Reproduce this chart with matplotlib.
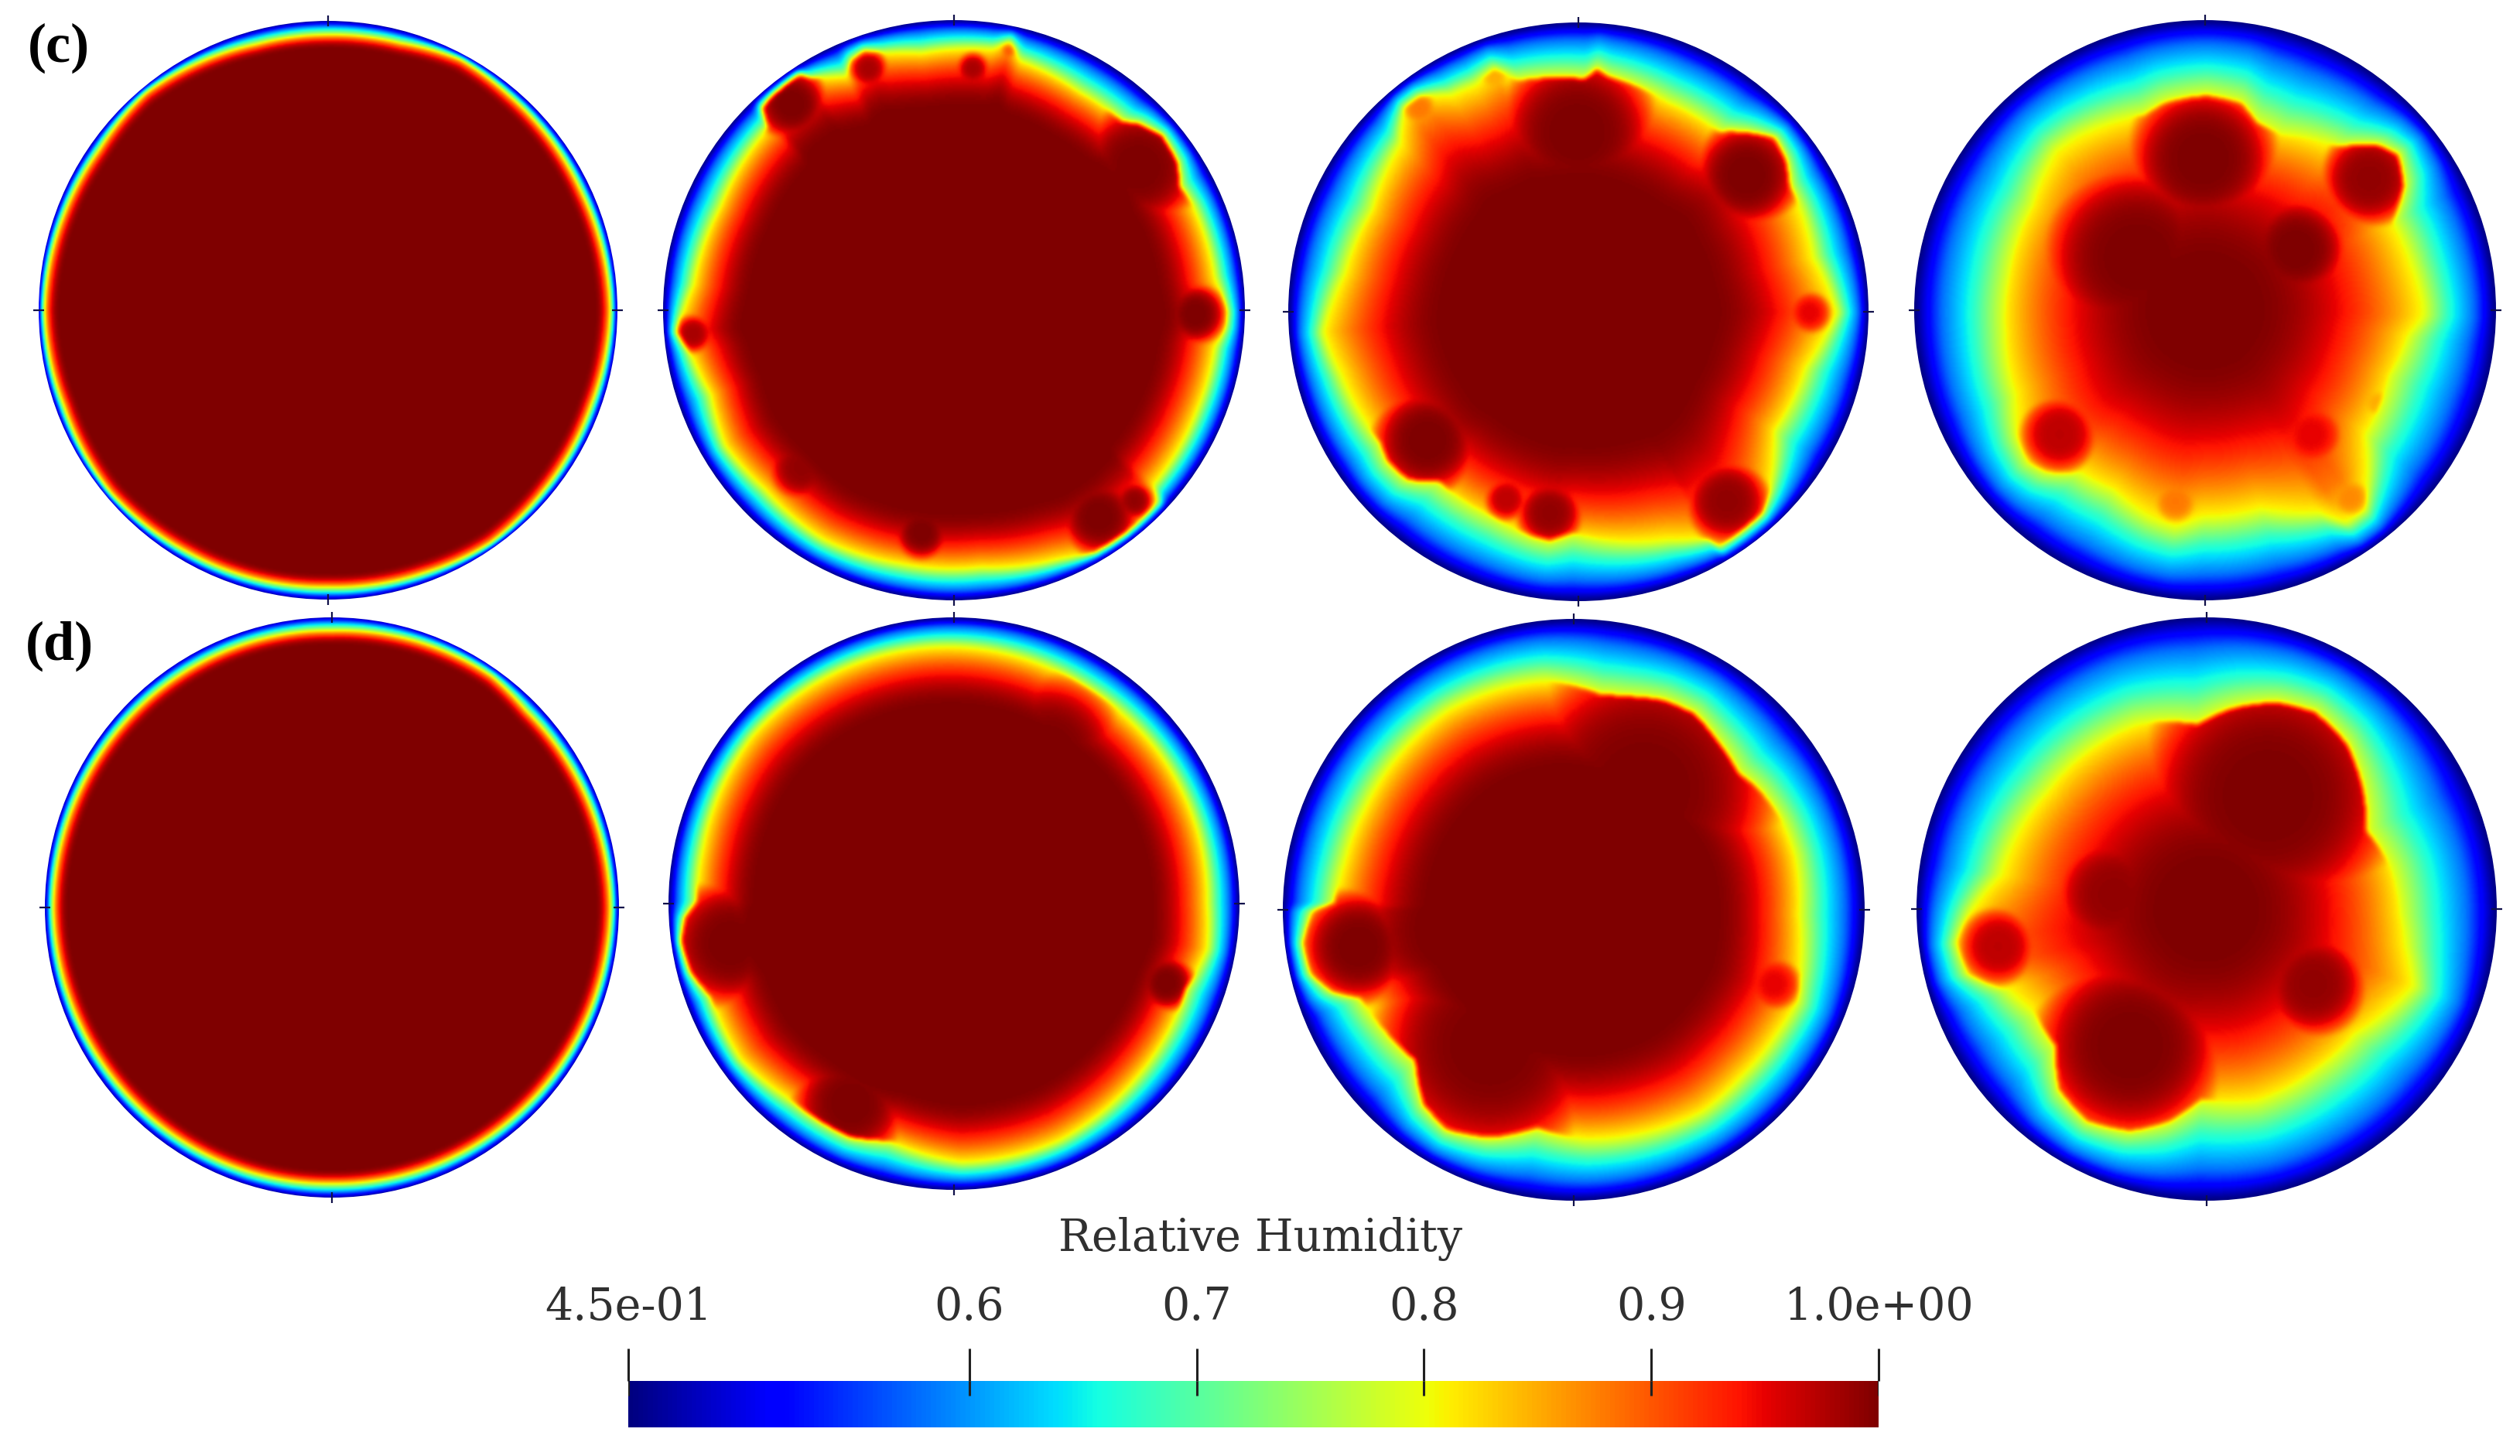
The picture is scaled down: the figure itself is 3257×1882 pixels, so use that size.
import matplotlib
matplotlib.use("Agg")
import matplotlib.pyplot as plt
import numpy as np
from matplotlib.patches import Circle
from matplotlib.cm import ScalarMappable
from matplotlib.colors import Normalize

W, H = 3257, 1882
VMIN, VMAX = 0.45, 1.0
YELLOW = 0.8

# yellow (RH=0.8) contour of the two early panels: angle in degrees, radius on the unit disc
c1_angle = [0, 25, 50, 62, 75, 90, 105, 118, 130, 145, 160, 180, 200, 220, 240, 270, 290, 305, 320, 340]
c1_radius = [0.98, 0.97, 0.975, 0.985, 0.96, 0.955, 0.955, 0.97, 0.985, 0.97, 0.975, 0.985, 0.975, 0.985, 0.97, 0.96,
             0.97, 0.985, 0.975, 0.97]
d1_angle = [0, 45, 55, 90, 135, 180, 225, 270, 315]
d1_radius = [0.975, 0.96, 0.975, 0.955, 0.965, 0.975, 0.965, 0.955, 0.965]

# yellow contour of the others, read as pixels of a 1568 wide crop of each panel
c2_contour = [(1475, 790), (1445, 700), (1390, 520), (1355, 470), (1350, 410), (1310, 340), (1250, 310), (1210, 305),
              (1100, 230), (950, 150), (925, 100), (880, 120), (700, 130), (600, 130), (555, 125), (520, 150),
              (510, 190), (420, 195), (390, 185), (320, 240), (295, 270), (310, 320), (190, 520), (120, 720),
              (78, 840), (110, 890), (165, 1000), (200, 1130), (300, 1240), (450, 1370), (640, 1430), (850, 1440),
              (1050, 1420), (1140, 1400), (1220, 1350), (1300, 1270), (1290, 1230), (1400, 1040), (1445, 880),
              (1470, 830)]
c3_contour = [(1430, 790), (1370, 650), (1335, 520), (1310, 470), (1300, 400), (1270, 345), (1190, 330), (1130, 330),
              (1000, 255), (850, 190), (820, 170), (790, 195), (620, 200), (560, 170), (510, 210), (450, 235),
              (370, 240), (330, 270), (320, 360), (250, 530), (180, 690), (125, 840), (170, 950), (270, 1120),
              (290, 1170), (340, 1215), (420, 1220), (560, 1310), (660, 1360), (700, 1370), (760, 1350), (1000, 1370),
              (1100, 1365), (1130, 1385), (1240, 1300), (1260, 1240), (1270, 1090), (1350, 930), (1400, 850)]
c4_contour = [(1320, 770), (1290, 670), (1240, 560), (1270, 470), (1255, 390), (1200, 365), (1100, 370), (950, 340),
              (890, 310), (850, 260), (760, 240), (650, 260), (600, 290), (430, 340), (370, 380), (310, 520),
              (250, 700), (240, 840), (265, 1000), (270, 1100), (300, 1170), (350, 1195), (430, 1195), (520, 1240),
              (610, 1310), (680, 1335), (750, 1310), (900, 1290), (1050, 1300), (1120, 1325), (1170, 1290),
              (1175, 1230), (1170, 1100), (1230, 950), (1280, 850), (1320, 800)]
d2_contour = [(1425, 785), (1400, 600), (1300, 400), (1120, 240), (790, 135), (500, 190), (270, 360), (145, 640),
              (130, 780), (100, 820), (90, 880), (115, 960), (165, 1020), (240, 1180), (380, 1290), (520, 1375),
              (620, 1385), (800, 1440), (1050, 1385), (1250, 1220), (1370, 1000), (1425, 900)]
d3_contour = [(1345, 800), (1335, 650), (1300, 560), (1240, 480), (1190, 440), (1130, 350), (1080, 290), (1000, 255),
              (900, 245), (840, 240), (700, 205), (600, 220), (450, 280), (330, 390), (240, 530), (190, 660),
              (165, 770), (110, 790), (85, 870), (105, 950), (160, 995), (230, 1010), (290, 1090), (370, 1170),
              (390, 1280), (450, 1345), (560, 1365), (680, 1340), (800, 1370), (950, 1355), (1100, 1300), (1200, 1210),
              (1290, 1100), (1340, 1020), (1345, 970), (1350, 880)]
d4_contour = [(1265, 800), (1240, 680), (1180, 590), (1170, 480), (1130, 370), (1050, 290), (950, 265), (840, 280),
              (750, 320), (600, 320), (470, 390), (370, 490), (290, 600), (250, 700), (175, 790), (140, 870),
              (170, 950), (270, 990), (340, 1050), (390, 1130), (400, 1240), (470, 1320), (580, 1345), (680, 1320),
              (760, 1265), (900, 1270), (1050, 1190), (1150, 1100), (1300, 980), (1280, 880)]

# wet blobs in the same crop pixels: x, y, radius, humidity at the middle
c1_blobs = []
c2_blobs = [(1250, 420, 110, 1.0), (1395, 795, 55, 1.0), (120, 845, 35, 0.98), (370, 260, 65, 1.0), (565, 170, 35, 0.98),
            (830, 170, 30, 0.98), (920, 125, 15, 0.9), (395, 1185, 60, 0.99), (700, 1350, 50, 1.0), (1150, 1310, 70, 1.0),
            (1240, 1270, 35, 0.99)]
c3_blobs = [(770, 330, 140, 1.0), (1200, 440, 95, 1.0), (1360, 790, 40, 0.95), (390, 1115, 95, 1.0), (700, 1300, 60, 0.99),
            (590, 1265, 40, 0.97), (1150, 1270, 75, 0.99), (370, 270, 35, 0.88), (560, 190, 30, 0.85), (820, 185, 20, 0.8)]
c4_blobs = [(750, 400, 130, 1.0), (1180, 450, 85, 0.99), (580, 650, 165, 1.0), (990, 630, 95, 1.0), (750, 850, 230, 0.99),
            (380, 1100, 70, 0.97), (1030, 1100, 60, 0.95), (680, 1270, 45, 0.88), (1130, 1260, 40, 0.87), (1200, 1020, 30, 0.85)]
d1_blobs = []
d2_blobs = [(215, 885, 110, 1.0), (520, 1290, 100, 1.0), (1320, 985, 50, 1.0), (1020, 400, 130, 1.0)]
d3_blobs = [(950, 480, 230, 1.0), (560, 1130, 200, 1.0), (225, 880, 100, 1.0), (1280, 975, 50, 0.95), (760, 780, 330, 1.0)]
d4_blobs = [(930, 500, 225, 1.0), (580, 1130, 165, 1.0), (245, 880, 70, 0.97), (1045, 975, 95, 0.99), (540, 750, 110, 0.99),
            (700, 820, 180, 0.98)]

contours = [None, c2_contour, c3_contour, c4_contour, None, d2_contour, d3_contour, d4_contour]
blobs = [c1_blobs, c2_blobs, c3_blobs, c4_blobs, d1_blobs, d2_blobs, d3_blobs, d4_blobs]
polar_rims = {0: (c1_angle, c1_radius), 4: (d1_angle, d1_radius)}

# how far in from the yellow contour the humidity takes to saturate
inner_width = [0.05, 0.22, 0.40, 0.6, 0.05, 0.22, 0.33, 0.6]
outer_t = [0, 0.35, 0.7, 1.0]
outer_rh = [0.8, 0.67, 0.58, 0.45]

# centre and radius of each panel inside its crop
crop_cx = [0, 782, 773, 756, 0, 782, 772, 774]
crop_cy = [0, 785, 788, 785, 0, 785, 787, 785]
crop_rx = [1, 737, 735, 750, 1, 722, 737, 735]
crop_ry = [1, 737, 735, 735, 1, 722, 737, 735]

# panel centres and radii in pixels
centre_x = [424, 1233, 2040, 2850, 429, 1233, 2034, 2852]
centre_y = [401, 401, 403, 401, 1173, 1168, 1176, 1175]
radius_x = [374, 376, 375, 376, 371, 369, 376, 375]
radius_y = [374, 375, 374, 375, 375, 370, 376, 377]

panel_labels = ["(c)", "(d)"]
cbar_ticks = [0.45, 0.6, 0.7, 0.8, 0.9, 1.0]
cbar_ticklabels = ["4.5e-01", "0.6", "0.7", "0.8", "0.9", "1.0e+00"]


def blur(a, sigma=1.6):
    k = np.exp(-0.5 * (np.arange(-5, 6) / sigma) ** 2)
    k = k / k.sum()
    pad = np.pad(a, 5, mode="edge")
    pad = np.apply_along_axis(lambda v: np.convolve(v, k, mode="same"), 0, pad)
    pad = np.apply_along_axis(lambda v: np.convolve(v, k, mode="same"), 1, pad)
    return pad[5:-5, 5:-5]


def field(i, n=400):
    g = np.linspace(-1, 1, n)
    x, y = np.meshgrid(g, g)
    r = np.sqrt(x**2 + y**2)
    th = np.degrees(np.arctan2(y, x)) % 360

    if contours[i] is None:
        ang, rad = polar_rims[i]
    else:
        px = (np.array(contours[i])[:, 0] - crop_cx[i]) / crop_rx[i]
        py = (crop_cy[i] - np.array(contours[i])[:, 1]) / crop_ry[i]
        ang = np.degrees(np.arctan2(py, px)) % 360
        rad = np.hypot(px, py)
    rim = np.interp(th, ang, rad, period=360)

    # fade the contour's corners out towards the middle so no spokes show
    mean_rim = np.mean(rad)
    rim_in = mean_rim + (rim - mean_rim) * np.clip(r / mean_rim, 0, 1) ** 3
    s = np.clip((rim_in - r) / inner_width[i], 0, 1)
    inside = YELLOW + (1 - YELLOW) * (1 - (1 - s) ** 2)
    t = np.clip((r - rim) / (1 - rim), 0, 1)
    out = np.where(r < rim, inside, np.interp(t, outer_t, outer_rh))

    for bx, by, br, level in blobs[i]:
        dx = (bx - crop_cx[i]) / crop_rx[i]
        dy = (crop_cy[i] - by) / crop_ry[i]
        d = np.hypot(x - dx, y - dy) / (1.6 * br / crop_ry[i])
        blob = level - 0.2 * d**4
        # a blob never spills past the yellow contour
        out = np.where(r < rim, np.maximum(out, blob), out)
    return blur(out)


def px_axes(fig, x0, y0, x1, y1):
    return fig.add_axes([x0 / W, 1 - y1 / H, (x1 - x0) / W, (y1 - y0) / H])


fig = plt.figure(figsize=(W / 200, H / 200), dpi=200)
norm = Normalize(VMIN, VMAX)

for i in range(8):
    cx, cy, rx, ry = centre_x[i], centre_y[i], radius_x[i], radius_y[i]
    ax = px_axes(fig, cx - rx, cy - ry, cx + rx, cy + ry)
    im = ax.imshow(field(i), extent=(-1, 1, -1, 1), origin="lower", cmap="jet", norm=norm,
                   interpolation="bilinear", aspect="auto")
    im.set_clip_path(Circle((0, 0), 1, transform=ax.transData))
    for s in ax.spines.values():
        s.set_visible(False)
    ax.set_xticks([0])
    ax.set_yticks([0])
    ax.tick_params(top=True, right=True, direction="inout", length=5, width=0.8, color="#10104a",
                   labelbottom=False, labelleft=False)

fig.text(36 / W, 1 - 62 / H, panel_labels[0], family="Liberation Serif", weight="bold", fontsize=26, va="center")
fig.text(33 / W, 1 - 835 / H, panel_labels[1], family="Liberation Serif", weight="bold", fontsize=26, va="center")

cax = px_axes(fig, 812, 1785, 2428, 1845)
cb = fig.colorbar(ScalarMappable(norm=norm, cmap="jet"), cax=cax, orientation="horizontal", ticklocation="top")
cb.outline.set_visible(False)
cb.set_ticks(cbar_ticks)
cb.set_ticklabels(cbar_ticklabels)
cax.tick_params(length=15, width=1.1, color="#202020", pad=9, labelsize=20.5, labelcolor="#303030")
for lab in cax.get_xticklabels():
    lab.set_family("DejaVu Serif")
cax.vlines(cbar_ticks, 0.69, 1.0, color="#202020", lw=1.1, transform=cax.get_xaxis_transform())
fig.text(1629 / W, 1 - 1601 / H, "Relative Humidity", family="DejaVu Serif", fontsize=20.5, color="#303030",
         ha="center", va="center")

fig.savefig("out.png", dpi=200)
